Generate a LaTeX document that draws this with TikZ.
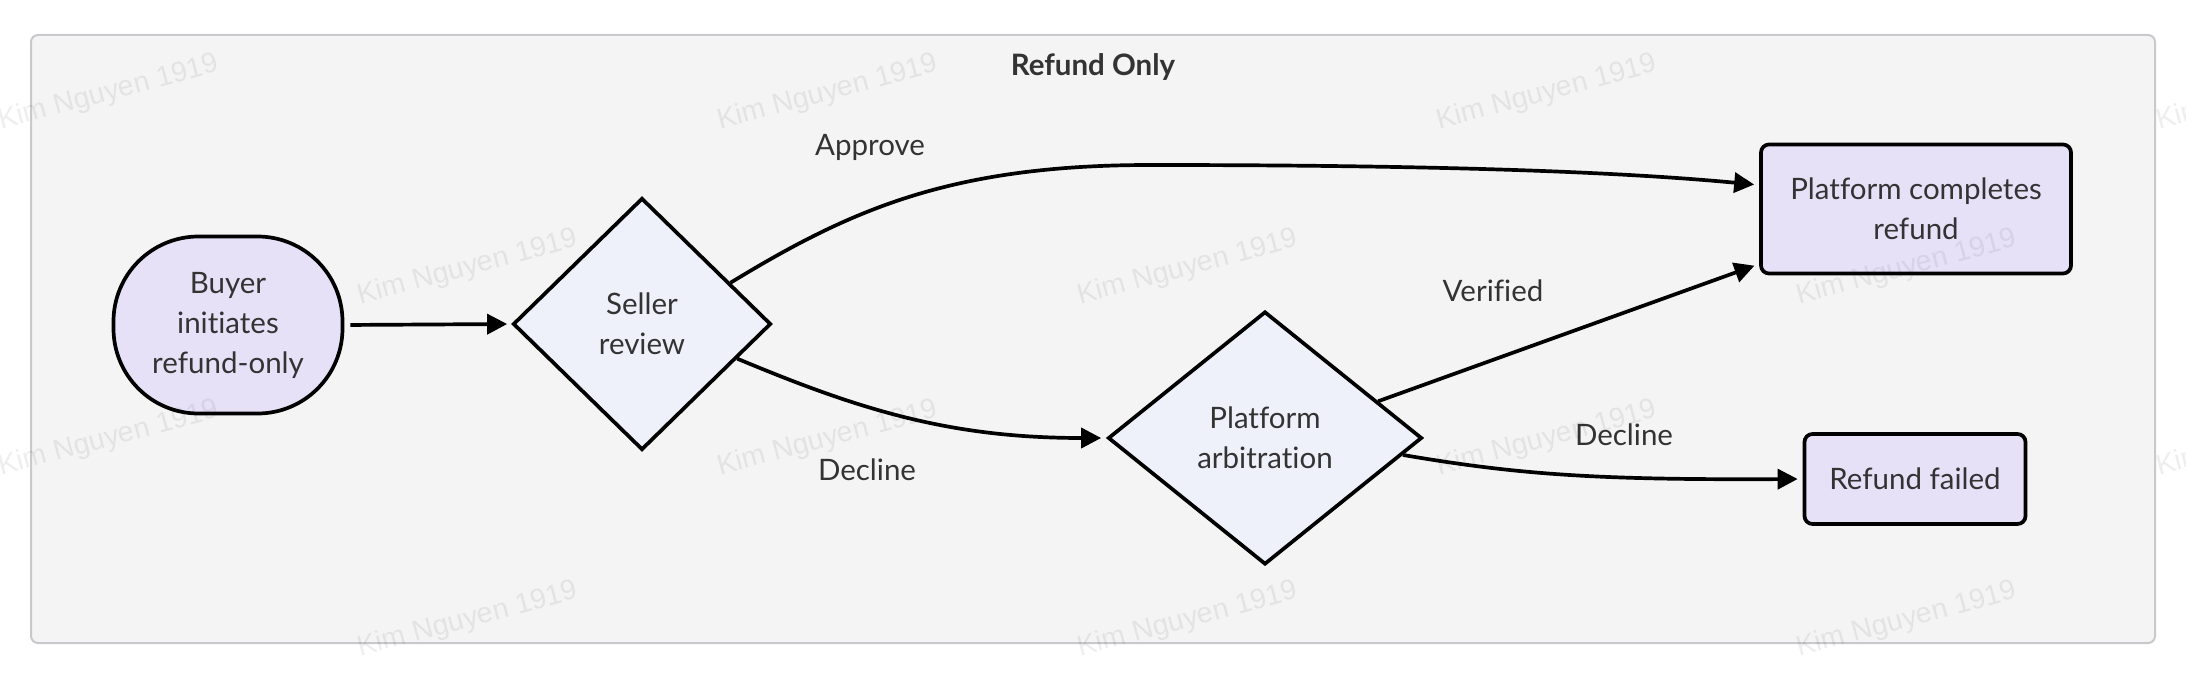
\documentclass[tikz,border=0pt]{standalone}
\usepackage{fontspec}
\setmainfont{Lato}[Ligatures=NoCommon]
\newfontfamily\wmf{Liberation Sans}
\usetikzlibrary{arrows.meta,shapes.geometric}
\definecolor{lav}{HTML}{E7E1F8}
\definecolor{dia}{HTML}{EEF1FA}
\definecolor{bgc}{HTML}{F4F4F4}
\definecolor{framec}{HTML}{C9C9CD}
\definecolor{txt}{HTML}{333333}
\newcommand{\nfont}{\fontsize{29.5}{40}\selectfont}
\newcommand{\wmfont}{\wmf\fontsize{28.5}{32}\selectfont}
\tikzset{
  base/.style={draw=black, line width=3.7pt, text=txt, font=\nfont, align=center, inner sep=0pt},
  term/.style={base, fill=lav, rounded corners=85pt, minimum width=229pt, minimum height=177pt},
  decide/.style={base, fill=dia, shape=diamond, aspect=1},
  proc/.style={base, fill=lav, rounded corners=8pt},
  lbl/.style={text=txt, font=\nfont, inner sep=0pt},
  conn/.style={draw=black, line width=3.7pt, -{Triangle[length=20pt,width=20pt]}, shorten >=5pt},
  wm/.style={text=black, opacity=0.065, font=\wmfont, rotate=15, inner sep=0pt}
}
\begin{document}
\begin{tikzpicture}[x=1pt,y=-1pt]
\useasboundingbox (0,0) rectangle (2186,674);
\clip (0,0) rectangle (2186,674);
\fill[white] (0,0) rectangle (2186,674);
\draw[draw=framec, fill=bgc, line width=2pt, rounded corners=7pt] (31,35) rectangle (2155,643);
\node[text=txt, font=\nfont\bfseries, inner sep=0pt] (title) at (1093,67) {Refund Only};

\node[term] (buyer) at (228,325) {Buyer\\initiates\\refund-only};
\node[decide, minimum width=258pt, minimum height=252pt] (seller) at (642,324) {Seller\\review};
\node[decide, minimum width=314pt, minimum height=253pt] (arb) at (1265,438) {Platform\\arbitration};
\node[proc, minimum width=310pt, minimum height=129pt] (complete) at (1916,209) {Platform completes\\refund};
\node[proc, minimum width=221pt, minimum height=90pt] (failed) at (1915,479) {Refund failed};

\draw[conn, shorten <=6pt, shorten >=4pt] (buyer.east) -- (seller.west);
\draw[conn] (seller.25) .. controls (850,210) and (950,165) .. (1150,165) .. controls (1400,165) and (1600,170) .. ([yshift=24pt]complete.west);
\draw[conn] (seller.-20) .. controls (860,410) and (950,438) .. (arb.west);
\draw[conn] (arb.18) -- ([yshift=-55pt]complete.west);
\draw[conn] (arb.-7) .. controls (1520,475) and (1600,480) .. (failed.west);

\node[lbl] (l1) at (870,147) {Approve};
\node[lbl] (l2) at (867,470) {Decline};
\node[lbl] (l3) at (1493,291) {Verified};
\node[lbl] (l4) at (1624,435) {Decline};

\foreach \i/\x/\y in {1/109/93,2/828/93,3/1547/93,4/2267/93,5/468/268,6/1188/268,7/1907/268,8/109/439,9/828/439,10/1547/439,11/2267/439,12/468/620,13/1188/620,14/1907/620}
  \node[wm] (wm\i) at (\x,\y) {Kim Nguyen 1919};
\end{tikzpicture}
\end{document}
